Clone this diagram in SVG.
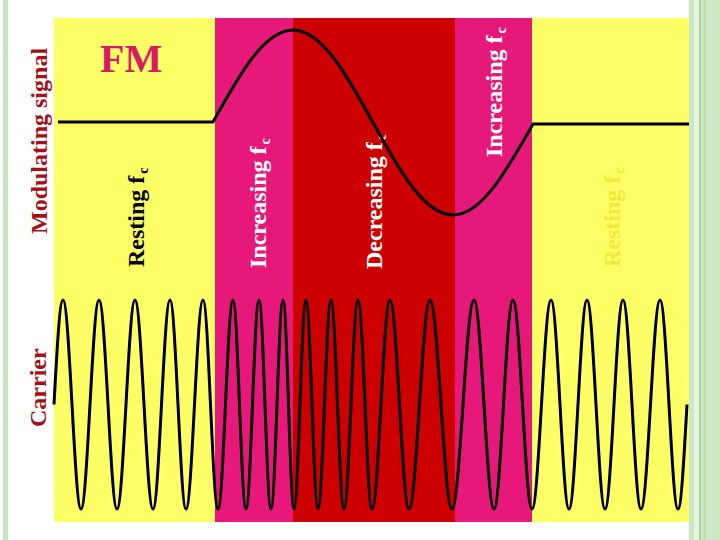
<svg xmlns="http://www.w3.org/2000/svg" width="720" height="540" viewBox="0 0 720 540">
<style>
.lbl{font-family:"Liberation Serif","Times New Roman",serif;font-weight:bold;font-size:24px}
.sub{font-size:14px}
.wave{fill:none;stroke:#000;stroke-width:3;stroke-linejoin:round}
</style>
<rect x="0" y="0" width="720" height="540" fill="#FFFFFF"/>
<g id="frame">
<rect x="3" y="0" width="5" height="540" fill="#C6E4BE"/>
<rect x="689" y="0" width="31" height="540" fill="#CBE7C3"/>
<rect x="694" y="0" width="5" height="540" fill="#E6F4E2"/>
<rect x="699" y="0" width="2" height="540" fill="#A9D59D"/>
<rect x="704" y="0" width="1.5" height="540" fill="#B5DBAA"/>
</g>
<g id="bands">
<rect x="54" y="18" width="161" height="504" fill="#FFFF66"/>
<rect x="215" y="18" width="78" height="504" fill="#E6197A"/>
<rect x="293" y="18" width="162" height="504" fill="#CC0000"/>
<rect x="455" y="18" width="77" height="504" fill="#E6197A"/>
<rect x="532" y="18" width="157" height="504" fill="#FFFF66"/>
</g>
<g id="labels">
<text class="lbl" x="100" y="72" font-size="40" style="font-size:40px" fill="#D81A68">FM</text>
<text class="lbl" transform="translate(47,234) rotate(-90)" fill="#A50F15">Modulating signal</text>
<text class="lbl" transform="translate(46,427) rotate(-90)" fill="#A50F15">Carrier</text>
<text class="lbl" transform="translate(144,267) rotate(-90)" fill="#000000">Resting f<tspan class="sub" dx="2" dy="4">c</tspan></text>
<text class="lbl" transform="translate(266,268) rotate(-90)" fill="#FFFFFF">Increasing f<tspan class="sub" dx="2" dy="4">c</tspan></text>
<text class="lbl" transform="translate(382,269) rotate(-90)" fill="#FFFFFF">Decreasing f<tspan class="sub" dx="2" dy="4">c</tspan></text>
<text class="lbl" transform="translate(502,157) rotate(-90)" fill="#FFFFFF">Increasing f<tspan class="sub" dx="2" dy="4">c</tspan></text>
<text class="lbl" transform="translate(620,267) rotate(-90)" fill="#F0EA3A">Resting f<tspan class="sub" dx="2" dy="4">c</tspan></text>
</g>
<g id="signals">
<path id="modulating" class="wave" d="M58,122 L213,122 C239.1,75.1 264.1,30 293,30 C321.9,30 346.9,75.1 373,122.5 C399.1,169.9 424.1,215 453,215 C481.9,215 506.9,170 533,124 L689,124"/>
<path id="carrier" class="wave" d="M54,404.5 C56.9,351 59.7,300 63,300 C69.55,300 74.45,509 81,509 C87.55,509 92.45,300 99,300 C105.55,300 110.45,509 117,509 C123.55,509 128.45,300 135,300 C141.55,300 146.45,509 153,509 C159.19,509 163.81,300 170,300 C175.82,300 180.18,509 186,509 C192.19,509 196.81,300 203,300 C208.46,300 212.54,509 218,509 C223.46,509 227.54,300 233,300 C237.73,300 241.27,509 246,509 C250.73,509 254.27,300 259,300 C263.37,300 266.63,509 271,509 C275.37,509 278.63,300 283,300 C287,300 290,509 294,509 C298.37,509 301.63,300 306,300 C310.37,300 313.63,509 318,509 C322.73,509 326.27,300 331,300 C335.73,300 339.27,509 344,509 C349.1,509 352.9,300 358,300 C363.1,300 366.9,509 372,509 C378.55,509 383.45,300 390,300 C396.92,300 402.08,509 409,509 C416.64,509 422.36,300 430,300 C438.01,300 443.99,509 452,509 C460.01,509 465.99,300 474,300 C481.28,300 486.72,509 494,509 C500.92,509 506.08,300 513,300 C519.92,300 525.08,509 532,509 C538.92,509 544.08,300 551,300 C557.55,300 562.45,509 569,509 C575.55,509 580.45,300 587,300 C593.55,300 598.45,509 605,509 C611.55,509 616.45,300 623,300 C629.55,300 634.45,509 641,509 C647.92,509 653.08,300 660,300 C666.55,300 671.45,509 678,509 C681.3,509 684.1,455.5 687,404.5"/>
</g>
</svg>
